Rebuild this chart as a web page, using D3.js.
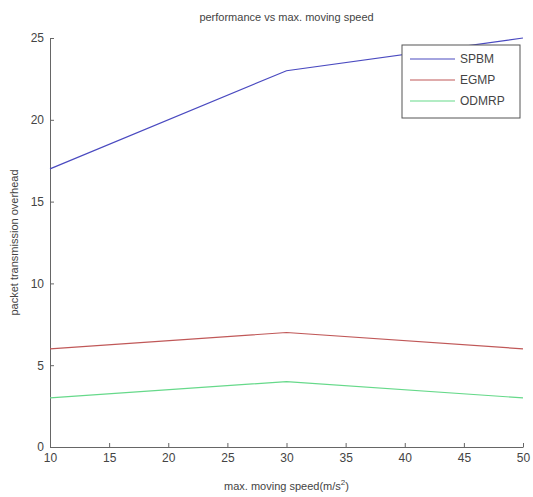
<!DOCTYPE html>
<html><head><meta charset="utf-8">
<script src="https://cdn.jsdelivr.net/npm/d3@7"></script>
<style>body{margin:0;background:#fff}svg{display:block}text{font-family:"Liberation Sans",Arial,sans-serif;fill:#444}</style>
</head><body>
<script>
const speeds = [10, 30, 50];
const spbm = [17, 23, 25];
const egmp = [6, 7, 6];
const odmrp = [3, 4, 3];
const seriesNames = ["SPBM", "EGMP", "ODMRP"];
const seriesColors = ["#4a4ac0", "#c05858", "#66d98a"];
const xTicks = [10, 15, 20, 25, 30, 35, 40, 45, 50];
const yTicks = [0, 5, 10, 15, 20, 25];

const W = 533, H = 497;
const m = {l: 50, r: 10, t: 38, b: 50};
const svg = d3.select("body").append("svg").attr("width", W).attr("height", H);
const x = d3.scaleLinear().domain([10, 50]).range([m.l, W - m.r]);
const y = d3.scaleLinear().domain([0, 25]).range([H - m.b, m.t]);

const xa = svg.append("g").attr("transform", `translate(0,${H - m.b})`)
  .call(d3.axisBottom(x).tickValues(xTicks).tickSizeInner(-4).tickSizeOuter(0).tickPadding(6));
const ya = svg.append("g").attr("transform", `translate(${m.l},0)`)
  .call(d3.axisLeft(y).tickValues(yTicks).tickSizeInner(-4).tickSizeOuter(0).tickPadding(6));
[xa, ya].forEach(a => {
  a.selectAll("path,line").attr("stroke", "#666");
  a.selectAll("text").attr("font-size", 12).attr("fill", "#444").attr("font-family", '"Liberation Sans Narrow","Liberation Sans",Arial,sans-serif');
});

const data = [spbm, egmp, odmrp];
const line = d3.line().x((d, i) => x(speeds[i])).y(d => y(d));
data.forEach((s, k) => {
  svg.append("path").datum(s).attr("d", line).attr("fill", "none")
    .attr("stroke", seriesColors[k]).attr("stroke-width", 1.2);
});

svg.append("text").attr("x", (m.l + W - m.r) / 2).attr("y", 21).attr("text-anchor", "middle")
  .attr("font-size", 11).text("performance vs max. moving speed");
const xl = svg.append("text").attr("x", (m.l + W - m.r) / 2).attr("y", 490).attr("text-anchor", "middle")
  .attr("font-size", 11);
xl.append("tspan").text("max. moving speed(m/s");
xl.append("tspan").attr("dy", -5).attr("font-size", 8).text("2");
xl.append("tspan").attr("dy", 5).text(")");
svg.append("text").attr("transform", `translate(18,${(m.t + H - m.b) / 2}) rotate(-90)`)
  .attr("text-anchor", "middle").attr("font-size", 11).text("packet transmission overhead");

const lg = svg.append("g").attr("transform", "translate(402,45)");
lg.append("rect").attr("width", 118).attr("height", 73).attr("fill", "#fff").attr("stroke", "#555");
seriesNames.forEach((n, k) => {
  const yy = 14 + k * 21;
  lg.append("line").attr("x1", 8).attr("x2", 53).attr("y1", yy).attr("y2", yy)
    .attr("stroke", seriesColors[k]).attr("stroke-width", 1.2);
  lg.append("text").attr("x", 58).attr("y", yy + 4).attr("font-size", 12).text(n);
});
</script>
</body></html>
